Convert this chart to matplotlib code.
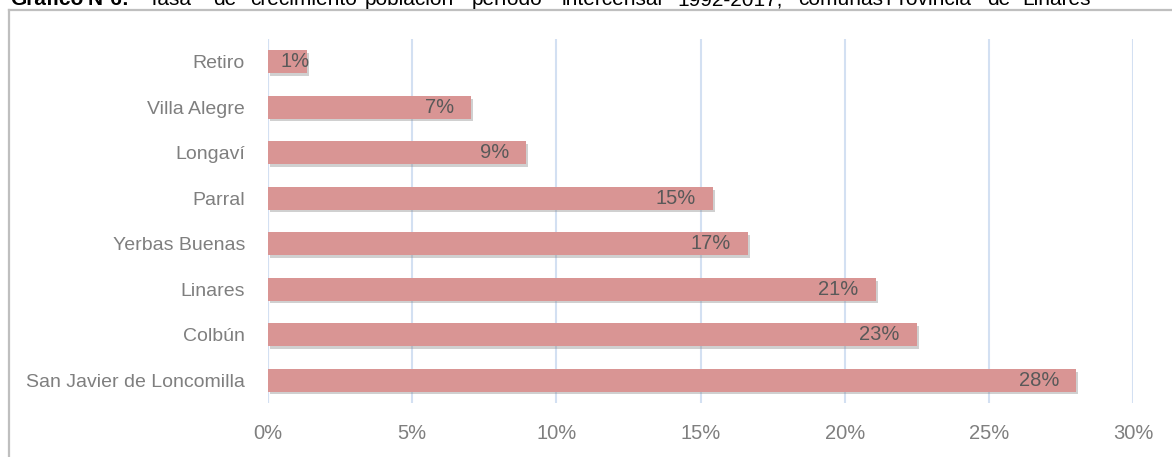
import matplotlib
matplotlib.use("Agg")
import matplotlib.pyplot as plt
import matplotlib.patheffects as pe
from matplotlib.lines import Line2D

# ---- data ----
comunas = ["San Javier de Loncomilla", "Colbún", "Linares", "Yerbas Buenas",
           "Parral", "Longaví", "Villa Alegre", "Retiro"]
tasas = [28.03, 22.5, 21.07, 16.65, 15.42, 8.95, 7.04, 1.35]
etiquetas = ["28%", "23%", "21%", "17%", "15%", "9%", "7%", "1%"]
xticks = [0, 5, 10, 15, 20, 25, 30]
xtick_labels = ["0%", "5%", "10%", "15%", "20%", "25%", "30%"]
title_words = ["Gráfico", "N°6:", "Tasa", "de", "crecimiento", "población", "período",
               "intercensal", "1992-2017,", "comunas", "Provincia", "de", "Linares"]
title_bold = [True, True] + [False] * 11

# ---- layout / style ----
W, H = 1172, 457
title_x_px = [10, 88, 148, 213, 250, 365, 472, 562, 677, 798, 885, 987, 1022]
label_offset_px = [-17, -17, -17, -17, -17, -17, -17, 3]
FONT = ["Liberation Sans", "DejaVu Sans"]
plt.rcParams["font.family"] = FONT

fig = plt.figure(figsize=(W / 100, H / 100), dpi=100)
ax = fig.add_axes([268 / W, 1 - 403 / H, (1133 - 268) / W, (403 - 39) / H])

bar_color = "#D99594"
grid_color = "#D3E0F2"
ypos = list(range(len(comunas)))
bars = ax.barh(ypos, tasas, height=0.5, color=bar_color, zorder=3)
for b in bars:
    b.set_path_effects([pe.SimplePatchShadow(offset=(1.5, -2), shadow_rgbFace="#8a8a8a", alpha=0.4),
                        pe.Normal()])

for y, v, lab, off in zip(ypos, tasas, etiquetas, label_offset_px):
    ax.annotate(lab, xy=(v, y), xytext=(off * 72 / 100, 0), textcoords="offset points",
                ha="right", va="center", fontsize=14.5, color="#595959", zorder=4)

ax.set_xlim(0, 30)
ax.set_ylim(-0.5, len(comunas) - 0.5)
ax.set_yticks(ypos)
ax.set_yticklabels(comunas, fontsize=14, color="#7f7f7f")
ax.set_xticks(xticks)
ax.set_xticklabels(xtick_labels, fontsize=14.5, color="#7f7f7f")
ax.tick_params(axis="both", length=0)
ax.tick_params(axis="y", pad=16.5)
ax.tick_params(axis="x", pad=15)
ax.grid(axis="x", color=grid_color, linewidth=1.5, zorder=0)
ax.set_axisbelow(True)
for s in ax.spines.values():
    s.set_visible(False)
ax.axvline(0, color=grid_color, linewidth=1.5, zorder=1)

# outer frame (left and top)
fig.add_artist(Line2D([9 / W, 9 / W], [0, 1 - 10 / H], color="#BFBFBF", linewidth=1.6))
fig.add_artist(Line2D([9 / W, 1], [1 - 10 / H, 1 - 10 / H], color="#BFBFBF", linewidth=1.6))

# title (cut off at the top, justified words)
for w, xp, b in zip(title_words, title_x_px, title_bold):
    fig.text(xp / W, 1 - 5 / H, w, ha="left", va="baseline", fontsize=15,
             fontweight="bold" if b else "normal", color="black")

fig.savefig("out.png", dpi=100)
